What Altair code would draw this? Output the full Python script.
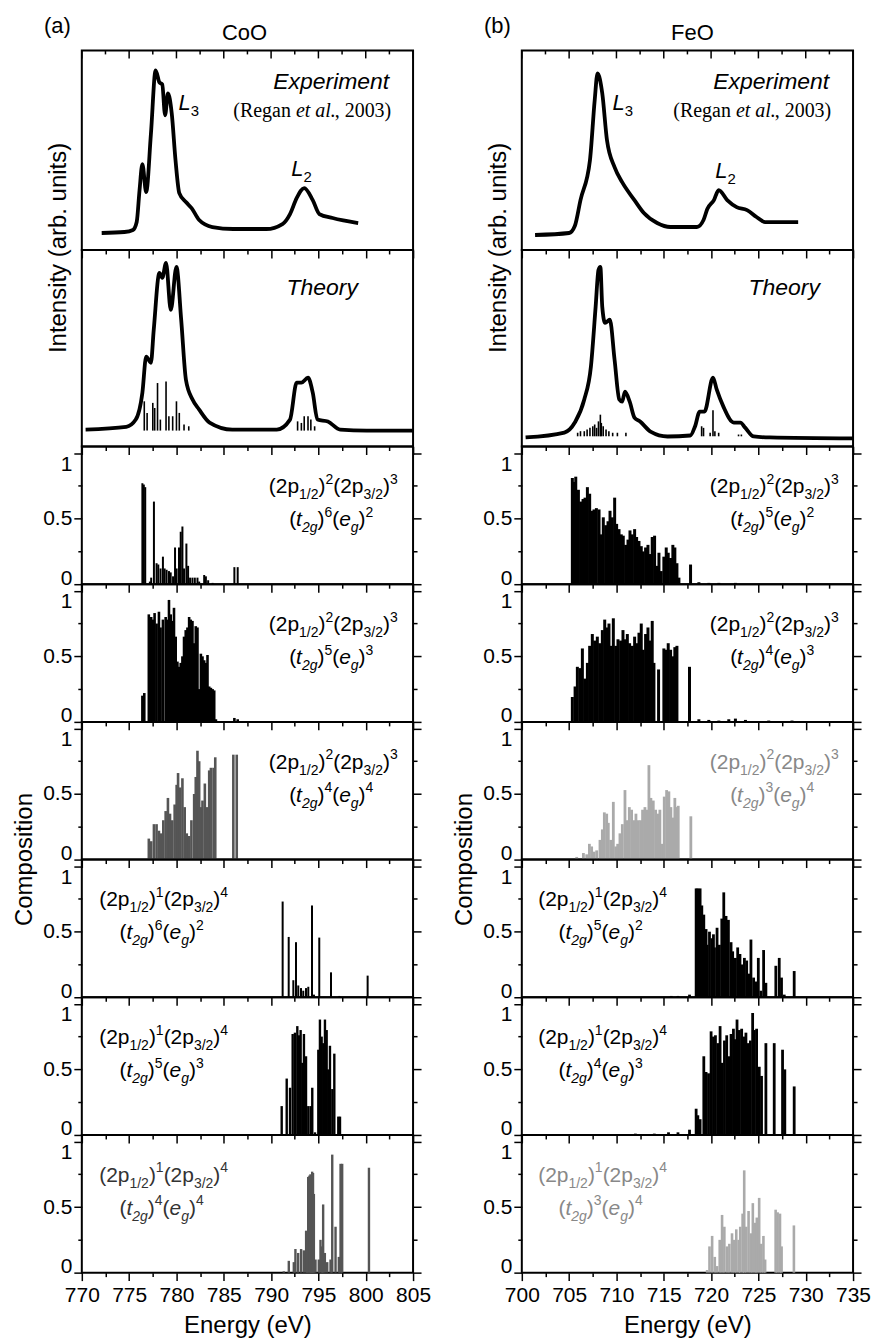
import altair as alt
import pandas as pd

SANS = "Liberation Sans"
SERIF = "Liberation Serif"

# ------------------------------------------------------------------ axes data
COO_RANGE = [770, 805]
FEO_RANGE = [700, 735]
COO_TICKS = [770, 772.5, 775, 777.5, 780, 782.5, 785, 787.5, 790, 792.5, 795, 797.5, 800, 802.5, 805]
FEO_TICKS = [700, 702.5, 705, 707.5, 710, 712.5, 715, 717.5, 720, 722.5, 725, 727.5, 730, 732.5, 735]
COMP_TICKS = [0, 0.25, 0.5, 0.75, 1]

# ------------------------------------------------------------------ CoO spectra
coo_exp_e = [772.1, 774.5, 775.4, 775.8, 776.1, 776.4, 776.8, 777.3, 777.8, 778.2, 778.5, 778.8, 779.1,
             779.5, 779.9, 780.3, 781.0, 781.6, 782.4, 783.8, 786.0, 789.5, 791.2, 792.0, 792.7, 793.5,
             794.4, 795.1, 796.5, 799.2]
coo_exp_i = [0.085, 0.09, 0.10, 0.14, 0.30, 0.43, 0.29, 0.58, 0.90, 0.84, 0.83, 0.675, 0.785,
             0.685, 0.45, 0.285, 0.24, 0.21, 0.15, 0.115, 0.105, 0.105, 0.13, 0.18, 0.26, 0.31,
             0.25, 0.18, 0.16, 0.135]
coo_th_e = [770.4, 774.7, 775.7, 776.4, 776.8, 777.3, 777.6, 778.2, 778.5, 778.9, 779.4, 780.0, 780.5,
            781.0, 781.7, 782.4, 783.5, 785.9, 790.6, 792.0, 792.7, 793.2, 793.9, 794.4, 794.9, 796.0,
            797.3, 800.1, 805.0]
coo_th_i = [0.086, 0.10, 0.137, 0.274, 0.457, 0.426, 0.594, 0.883, 0.858, 0.934, 0.695, 0.914, 0.645,
            0.34, 0.239, 0.188, 0.122, 0.086, 0.086, 0.137, 0.325, 0.325, 0.35, 0.274, 0.137, 0.127,
            0.086, 0.081, 0.081]
coo_stick_e = [776.6, 776.9, 777.5, 777.7, 778.0, 778.3, 778.9, 779.2, 779.6, 780.0, 780.3, 780.8, 781.3,
               792.8, 793.2, 793.5, 793.9, 794.2, 794.6]
coo_stick_i = [0.23, 0.171, 0.222, 0.196, 0.323, 0.137, 0.331, 0.154, 0.154, 0.23, 0.171, 0.112, 0.103,
               0.128, 0.12, 0.154, 0.154, 0.137, 0.103]
coo_stick_base = 0.081

# ------------------------------------------------------------------ FeO spectra
feo_exp_e = [701.4, 705.0, 705.6, 706.2, 707.2, 707.7, 708.0, 708.5, 709.0, 709.8, 710.6, 711.9, 712.9,
             714.3, 715.7, 718.5, 719.2, 719.6, 720.3, 720.8, 721.7, 722.7, 723.8, 724.8, 725.7, 729.2]
feo_exp_i = [0.075, 0.085, 0.12, 0.25, 0.45, 0.75, 0.885, 0.785, 0.55, 0.415, 0.34, 0.25, 0.185,
             0.135, 0.115, 0.115, 0.15, 0.205, 0.25, 0.30, 0.25, 0.215, 0.20, 0.165, 0.14, 0.14]
feo_th_e = [700.4, 704.5, 705.6, 706.6, 707.3, 707.8, 708.1, 708.3, 708.5, 708.8, 709.3, 709.8, 710.3,
            710.6, 710.9, 711.4, 711.9, 712.5, 713.6, 715.4, 717.8, 718.3, 718.8, 719.3, 720.2, 720.6,
            721.3, 722.4, 723.1, 723.6, 724.5, 726.2, 735.0]
feo_th_i = [0.046, 0.071, 0.122, 0.239, 0.406, 0.711, 0.898, 0.914, 0.711, 0.629, 0.645, 0.442, 0.239,
            0.228, 0.279, 0.228, 0.147, 0.127, 0.076, 0.051, 0.056, 0.102, 0.178, 0.178, 0.35, 0.289,
            0.203, 0.122, 0.122, 0.096, 0.051, 0.046, 0.041]
feo_stick_e = [705.9, 706.2, 706.6, 706.9, 707.2, 707.5, 707.7, 707.9, 708.1, 708.3, 708.4, 708.6, 708.9,
               709.2, 709.6, 710.1, 711.0, 719.0, 719.2, 719.9, 720.2, 720.4, 720.8, 722.9, 723.2]
feo_stick_i = [0.07, 0.078, 0.078, 0.086, 0.095, 0.103, 0.112, 0.095, 0.128, 0.162, 0.12, 0.103, 0.086,
               0.078, 0.07, 0.07, 0.07, 0.103, 0.095, 0.07, 0.184, 0.078, 0.07, 0.061, 0.061]
feo_stick_base = 0.052

# ------------------------------------------------------------------ CoO compositions
coo_c1_e = [776.4, 776.55, 776.7, 777.19, 777.33, 777.62, 777.9, 778.08, 778.32, 778.57, 778.75, 778.96,
            779.21, 779.39, 779.64, 779.85, 780.02, 780.27, 780.45, 780.63, 780.8, 781.05, 781.23, 781.44,
            781.69, 781.94, 782.22, 782.4, 782.93, 783.11, 783.35, 783.82, 786.12, 786.47]
coo_c1_v = [0.77, 0.76, 0.74, 0.02, 0.05, 0.63, 0.16, 0.15, 0.12, 0.21, 0.12, 0.11,
            0.10, 0.09, 0.06, 0.28, 0.12, 0.28, 0.40, 0.44, 0.12, 0.31, 0.14, 0.05,
            0.05, 0.05, 0.05, 0.02, 0.07, 0.06, 0.03, 0.01, 0.13, 0.13]
coo_c2_e = [776.4, 776.6, 777.08, 777.19, 777.33, 777.51, 777.69, 777.9, 778.15, 778.32, 778.57, 778.86,
            779.03, 779.21, 779.39, 779.56, 779.74, 779.92, 780.1, 780.27, 780.45, 780.63, 780.8, 780.98,
            781.16, 781.34, 781.51, 781.69, 781.87, 782.04, 782.22, 782.4, 782.58, 782.75, 782.93, 783.11,
            783.28, 783.46, 783.64, 783.82, 783.99, 784.17, 786.12, 786.47]
coo_c2_v = [0.20, 0.22, 0.82, 0.80, 0.80, 0.78, 0.83, 0.75, 0.84, 0.72, 0.78, 0.80,
            0.78, 0.93, 0.82, 0.77, 0.87, 0.65, 0.46, 0.42, 0.45, 0.50, 0.65, 0.70,
            0.72, 0.80, 0.78, 0.77, 0.60, 0.73, 0.72, 0.25, 0.52, 0.50, 0.47, 0.45,
            0.51, 0.27, 0.26, 0.25, 0.24, 0.02, 0.03, 0.02]
coo_c3_e = [777.08, 777.33, 777.62, 777.9, 778.15, 778.4, 778.61, 778.86, 779.1, 779.32, 779.56, 779.81,
            780.02, 780.17, 780.38, 780.63, 780.87, 781.09, 781.34, 781.58, 781.87, 782.04, 782.22, 782.4,
            782.58, 782.75, 783.0, 783.21, 783.46, 783.64, 783.92, 784.1, 786.01, 786.37]
coo_c3_v = [0.16, 0.14, 0.27, 0.27, 0.22, 0.20, 0.30, 0.37, 0.47, 0.35, 0.30, 0.42,
            0.57, 0.66, 0.55, 0.62, 0.40, 0.20, 0.18, 0.30, 0.50, 0.63, 0.83, 0.75,
            0.40, 0.45, 0.58, 0.40, 0.68, 0.70, 0.70, 0.78, 0.80, 0.80]
coo_c4_e = [791.22, 791.86, 792.35, 792.63, 792.87, 793.16, 793.4, 793.69, 793.93, 794.32, 794.53, 795.09,
            796.33, 797.21, 800.2]
coo_c4_v = [0.73, 0.46, 0.13, 0.42, 0.09, 0.07, 0.05, 0.07, 0.08, 0.70, 0.02, 0.455,
            0.19, 0.01, 0.165]
coo_c5_e = [791.12, 791.65, 792.0, 792.28, 792.52, 792.77, 792.95, 793.12, 793.3, 793.47, 793.69, 793.93,
            794.18, 794.35, 794.64, 794.99, 795.16, 795.34, 795.51, 795.69, 795.87, 796.04, 796.22, 796.47,
            796.68, 797.1, 797.28]
coo_c5_v = [0.22, 0.43, 0.36, 0.77, 0.78, 0.83, 0.76, 0.80, 0.55, 0.77, 0.60, 0.22,
            0.22, 0.36, 0.02, 0.65, 0.88, 0.75, 0.70, 0.88, 0.80, 0.50, 0.68, 0.35,
            0.62, 0.14, 0.14]
coo_c6_e = [791.34, 791.87, 792.4, 792.57, 792.86, 793.17, 793.46, 793.7, 793.8, 793.92, 794.05, 794.16,
            794.25, 794.34, 794.43, 794.52, 794.69, 795.04, 795.22, 795.4, 795.5, 795.68, 795.93, 796.28,
            796.46, 796.81, 797.16, 797.34, 797.51, 800.34]
coo_c6_v = [0.01, 0.09, 0.08, 0.18, 0.15, 0.18, 0.17, 0.32, 0.30, 0.73, 0.74, 0.75,
            0.70, 0.77, 0.76, 0.60, 0.10, 0.10, 0.25, 0.20, 0.52, 0.15, 0.08, 0.10,
            0.90, 0.35, 0.12, 0.83, 0.83, 0.80]

# ------------------------------------------------------------------ FeO compositions
feo_c1_e = [705.34, 705.52, 705.7, 705.98, 706.22, 706.47, 706.68, 706.93, 707.17, 707.38, 707.63, 707.88,
            708.16, 708.4, 708.61, 708.86, 709.11, 709.32, 709.56, 709.81, 710.02, 710.27, 710.51, 710.72,
            710.97, 711.22, 711.43, 711.67, 711.92, 712.13, 712.38, 712.62, 712.83, 713.08, 713.33, 713.54,
            713.78, 714.03, 714.24, 714.49, 714.73, 715.01, 715.26, 715.47, 715.72, 715.96, 716.17, 716.39,
            716.6, 717.83, 718.71, 719.76, 720.82, 722.57]
feo_c1_v = [0.81, 0.78, 0.82, 0.72, 0.63, 0.65, 0.66, 0.74, 0.69, 0.56, 0.57, 0.58,
            0.57, 0.38, 0.51, 0.45, 0.48, 0.56, 0.51, 0.66, 0.46, 0.42, 0.38, 0.37,
            0.30, 0.34, 0.41, 0.38, 0.42, 0.36, 0.33, 0.29, 0.25, 0.28, 0.30, 0.23,
            0.36, 0.37, 0.14, 0.24, 0.10, 0.21, 0.28, 0.24, 0.20, 0.30, 0.28, 0.16,
            0.05, 0.15, 0.015, 0.01, 0.01, 0.01]
feo_c2_e = [705.34, 705.63, 705.87, 706.15, 706.4, 706.65, 706.93, 707.17, 707.45, 707.7, 707.98, 708.23,
            708.51, 708.76, 708.97, 709.21, 709.39, 709.67, 709.92, 710.16, 710.44, 710.69, 710.9, 711.15,
            711.39, 711.67, 711.92, 712.13, 712.38, 712.62, 712.83, 713.08, 713.33, 713.54, 713.78, 713.96,
            714.45, 715.01, 715.26, 715.47, 715.72, 715.96, 716.17, 716.39, 717.72, 718.71, 719.76, 720.82,
            721.87, 722.57, 723.63, 726.09, 728.55]
feo_c2_v = [0.19, 0.27, 0.42, 0.41, 0.56, 0.33, 0.45, 0.58, 0.67, 0.62, 0.65, 0.60,
            0.70, 0.78, 0.72, 0.75, 0.58, 0.79, 0.58, 0.63, 0.62, 0.70, 0.63, 0.67,
            0.60, 0.58, 0.65, 0.60, 0.68, 0.75, 0.55, 0.67, 0.72, 0.62, 0.77, 0.45,
            0.40, 0.56, 0.55, 0.60, 0.55, 0.50, 0.57, 0.58, 0.42, 0.02, 0.015, 0.01,
            0.02, 0.025, 0.015, 0.01, 0.01]
feo_c3_e = [705.8, 706.51, 706.86, 707.14, 707.38, 707.63, 707.91, 708.26, 708.51, 708.72, 708.97, 709.14,
            709.39, 709.67, 709.92, 710.13, 710.37, 710.62, 710.9, 711.15, 711.36, 711.6, 711.85, 712.06,
            712.31, 712.55, 712.76, 713.01, 713.19, 713.43, 713.64, 713.89, 714.14, 714.35, 714.59, 714.84,
            715.05, 715.3, 715.54, 715.75, 716.0, 716.17, 716.35, 716.53, 717.86]
feo_c3_v = [0.02, 0.05, 0.04, 0.12, 0.10, 0.06, 0.07, 0.15, 0.23, 0.36, 0.35, 0.28,
            0.15, 0.44, 0.10, 0.12, 0.20, 0.27, 0.53, 0.30, 0.40, 0.38, 0.30, 0.35,
            0.30, 0.30, 0.38, 0.40, 0.38, 0.72, 0.47, 0.45, 0.38, 0.35, 0.38, 0.12,
            0.48, 0.53, 0.52, 0.40, 0.32, 0.47, 0.40, 0.41, 0.33]
feo_c4_e = [715.79, 716.49, 717.72, 718.42, 718.6, 718.84, 719.02, 719.23, 719.47, 719.58, 719.83, 720.07,
            720.25, 720.36, 720.63, 720.88, 721.13, 721.34, 721.58, 721.83, 722.11, 722.28, 722.57, 722.81,
            723.05, 723.26, 723.52, 723.76, 723.97, 724.21, 724.49, 724.74, 724.99, 725.26, 725.55, 725.79,
            726.84, 727.2, 727.44, 727.73, 728.78]
feo_c4_v = [0.01, 0.01, 0.02, 0.83, 0.83, 0.83, 0.70, 0.63, 0.52, 0.40, 0.50, 0.45,
            0.48, 0.38, 0.53, 0.40, 0.60, 0.80, 0.62, 0.59, 0.42, 0.35, 0.30, 0.38,
            0.33, 0.25, 0.30, 0.28, 0.18, 0.44, 0.15, 0.12, 0.30, 0.05, 0.36, 0.11,
            0.24, 0.30, 0.15, 0.02, 0.20]
feo_c5_e = [712.0, 714.0, 715.5, 716.5, 717.72, 718.42, 718.6, 718.84, 719.23, 719.47, 719.73, 720.0,
            720.25, 720.46, 720.71, 720.95, 721.16, 721.41, 721.65, 721.86, 722.11, 722.36, 722.57, 722.74,
            722.99, 723.23, 723.44, 723.68, 723.94, 724.15, 724.39, 724.57, 724.81, 725.09, 725.33, 725.79,
            726.67, 727.55, 727.79, 728.78]
feo_c5_v = [0.01, 0.01, 0.02, 0.02, 0.04, 0.20, 0.15, 0.12, 0.60, 0.48, 0.47, 0.79,
            0.75, 0.76, 0.70, 0.83, 0.55, 0.72, 0.76, 0.60, 0.77, 0.81, 0.73, 0.88,
            0.80, 0.81, 0.75, 0.78, 0.70, 0.72, 0.93, 0.80, 0.81, 0.52, 0.45, 0.70,
            0.70, 0.65, 0.50, 0.37]
feo_c6_e = [719.58, 719.83, 720.11, 720.39, 720.63, 720.91, 721.16, 721.4, 721.68, 721.93, 722.21, 722.45,
            722.66, 722.91, 723.08, 723.33, 723.5, 723.71, 723.96, 724.2, 724.41, 724.66, 724.83, 725.08,
            725.29, 725.53, 725.71, 726.82, 727.03, 727.28, 727.45, 728.75]
feo_c6_v = [0.02, 0.20, 0.28, 0.12, 0.05, 0.25, 0.44, 0.35, 0.20, 0.22, 0.30, 0.25,
            0.33, 0.25, 0.35, 0.45, 0.78, 0.35, 0.47, 0.30, 0.53, 0.38, 0.42, 0.57,
            0.22, 0.28, 0.10, 0.48, 0.46, 0.45, 0.20, 0.36]

# ------------------------------------------------------------------ layout constants
PW = 332
H_EXP, H_TH, H_C = 200, 197, 138
YMAX_C = 1.05

W_SANS = {"(": .333, ")": .333, "/": .278, " ": .278, "t": .278, "L": .556, "I": .278, "e": .556,
          "g": .556, "p": .556, "x": .5, "r": .333, "i": .222, "m": .833, "n": .556, "T": .611,
          "h": .556, "o": .556, "y": .5, "E": .667, "C": .722, "O": .778, "F": .611, "a": .556,
          "b": .556}
W_SERIF = {"(": .333, ")": .333, " ": .25, "R": .667, "e": .444, "g": .5, "a": .444, "n": .5,
           "t": .278, "l": .278, ".": .25, ",": .25}


def tw(txt, size, font):
    table = W_SANS if font == SANS else W_SERIF
    default = .556 if font == SANS else .5
    return size * sum(table.get(ch, default) for ch in txt)


def rich(parts, x, base, anchor="center", main=21, script=14, font=SANS, color="black"):
    ws = [tw(t, main if r == "n" else script, font) for t, r, it in parts]
    x0 = x - sum(ws) / 2 if anchor == "center" else x
    rows = []
    for (t, r, it), w in zip(parts, ws):
        size = main if r == "n" else script
        shift = 0 if r == "n" else (0.28 * main if r == "b" else -0.45 * main)
        rows.append({"t": t, "px": x0, "py": base + shift, "s": size, "it": it, "f": font, "c": color})
        x0 += w
    return rows


def conf_rows(a, b, n1, n2, cx, color):
    l1 = [("(2p", "n", False), ("1/2", "b", False), (")", "n", False), (a, "p", False),
          ("(2p", "n", False), ("3/2", "b", False), (")", "n", False), (b, "p", False)]
    l2 = [("(", "n", False), ("t", "n", True), ("2g", "b", True), (")", "n", False), (n1, "p", False),
          ("(", "n", False), ("e", "n", True), ("g", "b", True), (")", "n", False), (n2, "p", False)]
    return rich(l1, cx, 47, color=color) + rich(l2, cx - 2, 80, color=color)


def text_layers(rows, rng, h, ymax, xs, ys):
    df = pd.DataFrame(rows)
    df["e"] = rng[0] + df["px"] * (rng[1] - rng[0]) / PW
    df["v"] = ymax * (1 - df["py"] / h)
    layers = []
    for (f, it), sub in df.groupby(["f", "it"]):
        layers.append(
            alt.Chart(sub).mark_text(font=f, fontStyle="italic" if it else "normal",
                                     align="left", baseline="alphabetic").encode(
                x=alt.X("e:Q", scale=xs, axis=None),
                y=alt.Y("v:Q", scale=ys, axis=None),
                text="t:N",
                size=alt.Size("s:Q", scale=None),
                color=alt.Color("c:N", scale=None)))
    return layers


def rot_label(txt, px, py, rng, h, ymax, xs, ys):
    df = pd.DataFrame([{"t": txt, "e": rng[0] + px * (rng[1] - rng[0]) / PW, "v": ymax * (1 - py / h)}])
    return alt.Chart(df).mark_text(font=SANS, fontSize=24, angle=270, align="center",
                                   baseline="alphabetic", color="black").encode(
        x=alt.X("e:Q", scale=xs, axis=None), y=alt.Y("v:Q", scale=ys, axis=None), text="t:N")


TICK_X = {"condition": {"test": "datum.value % 5 === 0", "value": 8}, "value": 4}
TICK_Y = {"condition": {"test": "datum.value === 0.25 || datum.value === 0.75", "value": 4}, "value": 8}
BASE_Y = {"condition": [{"test": "datum.value === 0", "value": "alphabetic"},
                        {"test": "datum.value === 1", "value": "top"}], "value": "middle"}


def x_axis(ticks, last):
    kw = dict(values=ticks, orient="bottom", labels=last, tickSize=TICK_X, tickWidth=1.5, tickColor="black",
              domain=False, grid=False, labelFlush=False, labelOverlap=False,
              labelExpr="datum.value % 5 === 0 ? datum.label : ''",
              labelFont=SANS, labelFontSize=21, labelColor="black", labelPadding=4)
    if last:
        kw.update(title="Energy (eV)", titleFont=SANS, titleFontSize=24, titleFontWeight="normal",
                  titleColor="black", titlePadding=8)
    else:
        kw.update(title="")
    return alt.Axis(**kw)


def y_axis(orient):
    kw = dict(values=COMP_TICKS, orient=orient, tickSize=TICK_Y, tickWidth=1.5, tickColor="black",
              domain=False, grid=False, title="")
    if orient == "left":
        kw.update(labels=True, labelFont=SANS, labelFontSize=21, labelColor="black", labelPadding=2,
                  labelFlush=False, labelOverlap=False, labelBaseline=BASE_Y,
                  labelExpr="datum.value === 0 ? '0' : datum.value === 0.5 ? '0.5' : datum.value === 1 ? '1' : ''")
    else:
        kw.update(labels=False)
    return alt.Axis(**kw)


def top_ticks(ticks, xs):
    major = pd.DataFrame({"e": [t for t in ticks if t % 5 == 0]})
    minor = pd.DataFrame({"e": [t for t in ticks if t % 5 != 0]})
    return [alt.Chart(major).mark_rule(color="black", strokeWidth=1.5).encode(
                x=alt.X("e:Q", scale=xs, axis=None), y=alt.value(0), y2=alt.value(8)),
            alt.Chart(minor).mark_rule(color="black", strokeWidth=1.5).encode(
                x=alt.X("e:Q", scale=xs, axis=None), y=alt.value(0), y2=alt.value(4))]


def spec_panel(rng, ticks, h, ce, ci, rows, se=None, si=None, base=None, rot=None, top=False):
    xs = alt.Scale(domain=rng, nice=False, zero=False)
    ys = alt.Scale(domain=[0, 1], nice=False, zero=False)
    cdf = pd.DataFrame({"e": ce, "i": ci})
    layers = [alt.Chart(cdf).mark_line(color="black", strokeWidth=3.8, interpolate="monotone").encode(
        x=alt.X("e:Q", scale=xs, axis=x_axis(ticks, False)),
        y=alt.Y("i:Q", scale=ys, axis=None))]
    if se is not None:
        sdf = pd.DataFrame({"e": se, "v": si, "b": [base] * len(se)})
        layers.append(alt.Chart(sdf).mark_rule(color="black", strokeWidth=1.6).encode(
            x=alt.X("e:Q", scale=xs, axis=None), y=alt.Y("v:Q", scale=ys, axis=None), y2="b:Q"))
    if top:
        layers += top_ticks(ticks, xs)
    layers += text_layers(rows, rng, h, 1.0, xs, ys)
    if rot is not None:
        layers.append(rot_label(rot[0], rot[1], rot[2], rng, h, 1.0, xs, ys))
    return alt.layer(*layers).resolve_axis(x="independent", y="independent").properties(width=PW, height=h)


def comp_panel(rng, ticks, e, v, color, rows, sw, last=False, rot=None):
    xs = alt.Scale(domain=rng, nice=False, zero=False)
    ys = alt.Scale(domain=[0, YMAX_C], nice=False, zero=False)
    df = pd.DataFrame({"e": e, "v": v, "z": [0] * len(e)})
    bars = alt.Chart(df).mark_rule(color=color, strokeWidth=sw).encode(
        x=alt.X("e:Q", scale=xs, axis=x_axis(ticks, last)),
        y=alt.Y("v:Q", scale=ys, axis=y_axis("left")),
        y2="z:Q")
    dummy = alt.Chart(pd.DataFrame({"v": [0]})).mark_point(opacity=0).encode(
        y=alt.Y("v:Q", scale=ys, axis=y_axis("right")))
    layers = [bars, dummy] + text_layers(rows, rng, H_C, YMAX_C, xs, ys)
    if rot is not None:
        layers.append(rot_label(rot[0], rot[1], rot[2], rng, H_C, YMAX_C, xs, ys))
    return alt.layer(*layers).resolve_axis(x="independent", y="independent").properties(width=PW, height=H_C)


def column(rng, ticks, tag, name, name_x, exp, th, sticks, comps, l3, l2, th_x):
    exp_rows = (rich([(tag, "n", False)], -38, -17, anchor="left", main=22)
                + rich([(name, "n", False)], name_x, -10, main=22)
                + rich([("Experiment", "n", True)], 250, 39, main=23)
                + rich([("(Regan ", "n", False), ("et al.", "n", True), (", 2003)", "n", False)],
                       231, 67, main=20, font=SERIF)
                + rich([("L", "n", True), ("3", "b", False)], l3[0], l3[1], anchor="left", main=22, script=15)
                + rich([("L", "n", True), ("2", "b", False)], l2[0], l2[1], anchor="left", main=22, script=15))
    p1 = spec_panel(rng, ticks, H_EXP, exp[0], exp[1], exp_rows,
                    rot=("Intensity (arb. units)", -16, 198), top=True)
    th_rows = rich([("Theory", "n", True)], th_x, 45, main=23)
    p2 = spec_panel(rng, ticks, H_TH, th[0], th[1], th_rows, sticks[0], sticks[1], sticks[2])
    panels = [p1, p2]
    for k, (e, v, bcol, conf, cx, tcol, sw) in enumerate(comps):
        rows = conf_rows(conf[0], conf[1], conf[2], conf[3], cx, tcol)
        rot = ("Composition", -50, H_C) if k == 2 else None
        panels.append(comp_panel(rng, ticks, e, v, bcol, rows, sw, last=(k == 5), rot=rot))
    return panels


coo_panels = column(
    COO_RANGE, COO_TICKS, "(a)", "CoO", 163,
    (coo_exp_e, coo_exp_i), (coo_th_e, coo_th_i), (coo_stick_e, coo_stick_i, coo_stick_base),
    [(coo_c1_e, coo_c1_v, "black", ("2", "3", "6", "2"), 252, "black", 2.0),
     (coo_c2_e, coo_c2_v, "black", ("2", "3", "5", "3"), 252, "black", 2.6),
     (coo_c3_e, coo_c3_v, "#555555", ("2", "3", "4", "4"), 252, "black", 2.6),
     (coo_c4_e, coo_c4_v, "black", ("1", "4", "6", "2"), 82, "black", 2.0),
     (coo_c5_e, coo_c5_v, "black", ("1", "4", "5", "3"), 82, "black", 2.4),
     (coo_c6_e, coo_c6_v, "#555555", ("1", "4", "4", "4"), 82, "#333333", 2.4)],
    (97, 60), (210, 126), 241)

feo_panels = column(
    FEO_RANGE, FEO_TICKS, "(b)", "FeO", 171,
    (feo_exp_e, feo_exp_i), (feo_th_e, feo_th_i), (feo_stick_e, feo_stick_i, feo_stick_base),
    [(feo_c1_e, feo_c1_v, "black", ("2", "3", "5", "2"), 253, "black", 3.0),
     (feo_c2_e, feo_c2_v, "black", ("2", "3", "4", "3"), 253, "black", 3.0),
     (feo_c3_e, feo_c3_v, "#aaaaaa", ("2", "3", "3", "4"), 253, "#888888", 2.8),
     (feo_c4_e, feo_c4_v, "black", ("1", "4", "5", "2"), 81, "black", 2.8),
     (feo_c5_e, feo_c5_v, "black", ("1", "4", "4", "3"), 81, "black", 2.8),
     (feo_c6_e, feo_c6_v, "#aaaaaa", ("1", "4", "3", "4"), 81, "#888888", 2.6)],
    (91, 60), (194, 128), 263)

cells = []
for a, b in zip(coo_panels, feo_panels):
    cells += [a, b]

chart = alt.concat(*cells, columns=2, spacing={"row": 0, "column": 109}, bounds="flush").properties(
    padding={"left": 11, "top": 13, "right": 5, "bottom": 5},
    background="white",
).configure(font=SANS).configure_view(stroke="black", strokeWidth=2)

chart.save("out.html", embed_options={"renderer": "svg", "actions": False})
